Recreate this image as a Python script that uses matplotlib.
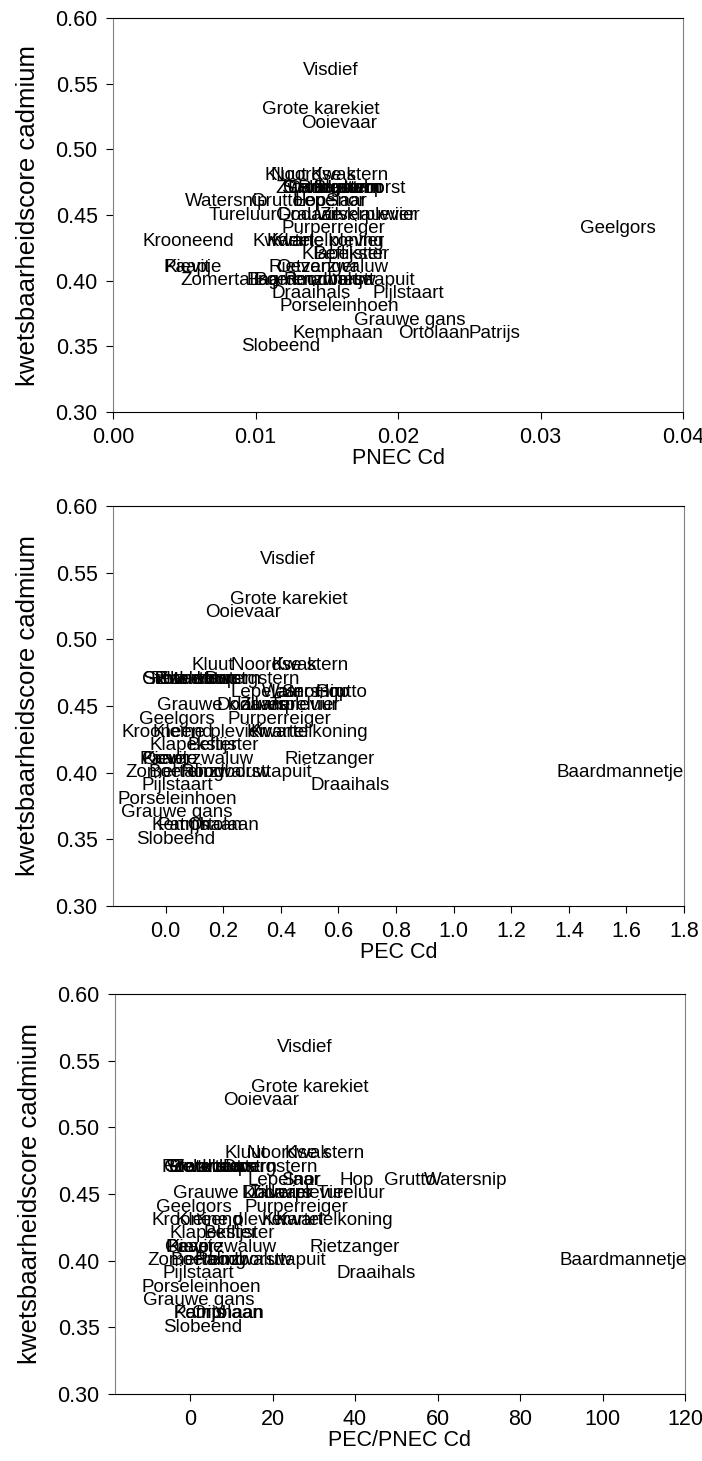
import numpy as np
import matplotlib
matplotlib.use("Agg")
from matplotlib import pyplot as plt
from matplotlib.ticker import FormatStrFormatter

plt.rcParams['font.family'] = ['Liberation Sans', 'DejaVu Sans']

soorten = ["Visdief", "Grote karekiet", "Ooievaar",
           "Kluut", "Noordse stern", "Kwak",
           "Steltkluut", "Grote stern", "Zwarte stern", "Blauwborst", "Roerdomp", "Dwergstern",
           "Watersnip", "Grutto", "Hop", "Snor", "Lepelaar",
           "Tureluur", "Dodaars", "Zilverplevier", "Grauwe klauwier",
           "Geelgors", "Purperreiger",
           "Krooneend", "Kwartel", "Kleine plevier", "Kwartelkoning",
           "Klapekster", "Beflijster",
           "Kievit", "Paapje", "Rietzanger", "Oeverzwaluw",
           "Zomertaling", "Baardmannetje", "Boerenzwaluw", "Roodborsttapuit",
           "Draaihals", "Pijlstaart", "Porseleinhoen", "Grauwe gans",
           "Kemphaan", "Ortolaan", "Patrijs", "Slobeend"]

score = [0.56, 0.53, 0.52,
         0.48, 0.48, 0.48,
         0.47, 0.47, 0.47, 0.47, 0.47, 0.47,
         0.46, 0.46, 0.46, 0.46, 0.46,
         0.45, 0.45, 0.45, 0.45,
         0.44, 0.44,
         0.43, 0.43, 0.43, 0.43,
         0.42, 0.42,
         0.41, 0.41, 0.41, 0.41,
         0.40, 0.40, 0.40, 0.40,
         0.39, 0.39, 0.38, 0.37,
         0.36, 0.36, 0.36, 0.35]

pnec = [0.0153, 0.0146, 0.0159,
        0.0121, 0.0152, 0.0155,
        0.0145, 0.0152, 0.0151, 0.0173, 0.0160, 0.0156,
        0.0080, 0.0115, 0.0138, 0.0163, 0.0153,
        0.0091, 0.0140, 0.0180, 0.0163,
        0.0354, 0.0155,
        0.0053, 0.0120, 0.0151, 0.0149,
        0.0163, 0.0166,
        0.0052, 0.0056, 0.0141, 0.0154,
        0.0082, 0.0138, 0.0142, 0.0166,
        0.0139, 0.0207, 0.0159, 0.0208,
        0.0158, 0.0225, 0.0268, 0.0118]

pec = [0.425, 0.429, 0.269,
       0.165, 0.43, 0.447,
       0.05, 0.08, 0.15, 0.12, 0.10, 0.30,
       0.48, 0.61, 0.58, 0.47, 0.35,
       0.48, 0.30, 0.43, 0.213,
       0.04, 0.395,
       0.005, 0.39, 0.15, 0.50,
       0.097, 0.20,
       0.0, 0.01, 0.57, 0.11,
       0.03, 1.577, 0.15, 0.28,
       0.64, 0.04, 0.04, 0.04,
       0.11, 0.20, 0.06, 0.036]

ratio = [27.9, 29.0, 17.2,
         13.6, 27.9, 28.4,
         3.2, 5.0, 8.5, 6.0, 3.6, 19.4,
         66.8, 53.4, 40.5, 27.0, 22.8,
         39.0, 21.0, 26.7, 12.8,
         1.0, 25.7,
         1.7, 25.0, 10.2, 35.0,
         5.6, 12.0,
         0.0, 1.0, 40.0, 7.3,
         1.7, 105.0, 10.0, 17.0,
         45.0, 2.0, 2.7, 2.0,
         7.0, 8.9, 2.2, 3.0]

W, H = 702, 1461
fig = plt.figure(figsize=(W / 100, H / 100), dpi=100)

panels = [
    (pnec, "PNEC Cd", (0.0, 0.04), np.arange(0, 0.041, 0.01), "%.2f", (113, 683, 18, 412)),
    (pec, "PEC Cd", (-0.183, 1.8), np.arange(0, 1.81, 0.2), "%.1f", (113, 684, 506, 906)),
    (ratio, "PEC/PNEC Cd", (-18.2, 120), np.arange(0, 121, 20), "%d", (115, 685, 994, 1394)),
]

for xs, xlab, xlim, xt, fmt, (l, r, t, b) in panels:
    ax = fig.add_axes([l / W, 1 - b / H, (r - l) / W, (b - t) / H])
    for naam, x, y in zip(soorten, xs, score):
        ax.text(x, y, naam, ha='center', va='center', fontsize=13.5, color='black')
    ax.set_xlim(*xlim)
    ax.set_ylim(0.30, 0.60)
    ax.set_xticks(xt)
    ax.set_yticks(np.arange(0.30, 0.601, 0.05))
    ax.xaxis.set_major_formatter(FormatStrFormatter(fmt))
    ax.yaxis.set_major_formatter(FormatStrFormatter("%.2f"))
    ax.tick_params(direction='out', length=5, labelsize=15.5, pad=6, top=False, right=False)
    ax.set_xlabel(xlab, fontsize=15.5, labelpad=0)
    ax.set_ylabel("kwetsbaarheidscore cadmium", fontsize=18.5, labelpad=11)
    for s in ['left', 'right']:
        ax.spines[s].set_color('#808080')

fig.savefig("out.png", dpi=100)
